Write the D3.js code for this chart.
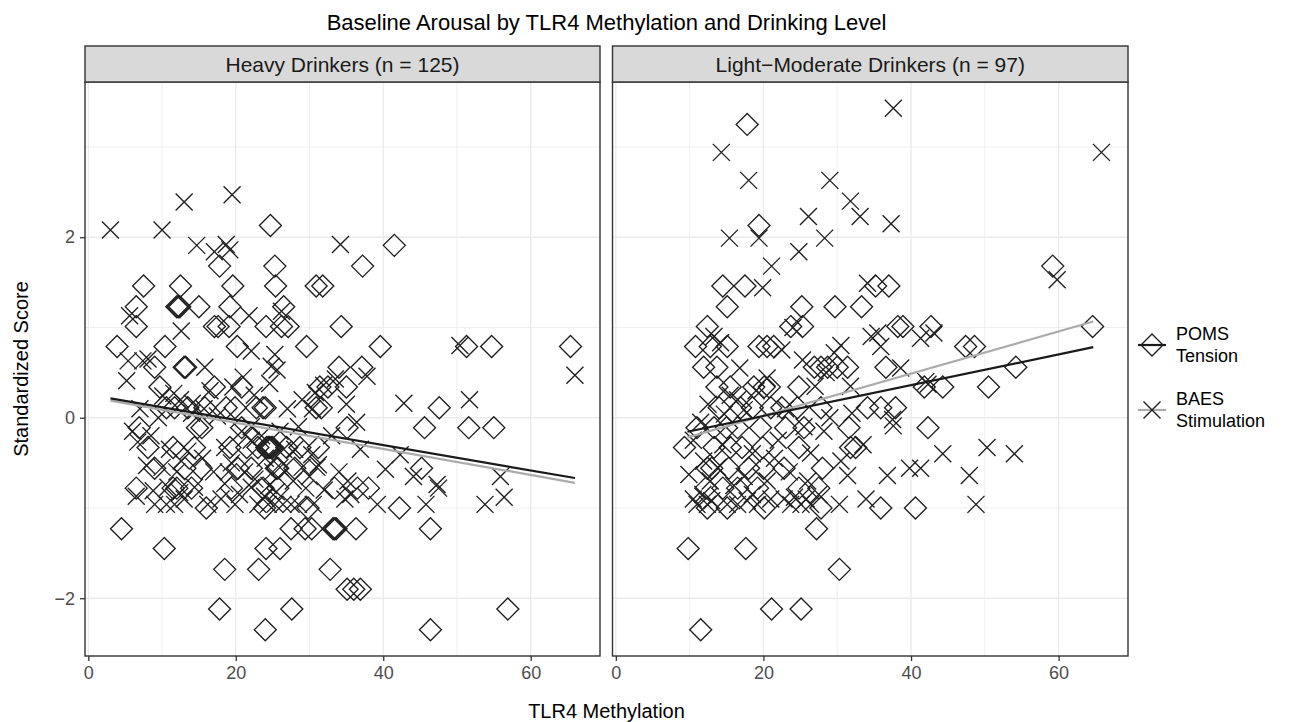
<!DOCTYPE html>
<html>
<head>
<meta charset="utf-8">
<script src="https://cdn.jsdelivr.net/npm/d3@7"></script>
<style>
  body { margin: 0; background: #fff; }
  text { font-family: "Liberation Sans", Arial, Helvetica, sans-serif; }
</style>
</head>
<body>
<div id="chart"></div>
<script>
// facet titles, tick values
const panelTitles = ["Heavy Drinkers (n = 125)", "Light\u2212Moderate Drinkers (n = 97)"];
const xTicks = [0, 20, 40, 60];
const xMinor = [10, 30, 50];
const yTicks = [-2, 0, 2];
const yMinor = [-1, 1, 3];
const seriesNames = [["POMS", "Tension"], ["BAES", "Stimulation"]];

// [methylation, standardized score]
const heavyPoms = [
  [24.7,2.13],[41.5,1.91],
  [17.8,1.68],[25.3,1.68],[37.2,1.68],
  [7.5,1.46],[12.5,1.46],[19.6,1.46],[25.4,1.46],[30.9,1.46],[31.8,1.46],
  [6.5,1.23],[12.0,1.23],[12.2,1.23],[12.4,1.23],[15.0,1.23],[19.2,1.23],[26.5,1.23],
  [6.5,1.01],[17.1,1.01],[17.6,1.01],[19.1,1.01],[24.1,1.01],[26.2,1.01],[27.1,1.01],[34.3,1.01],
  [3.9,0.79],[10.4,0.79],[20.2,0.79],[29.6,0.79],[39.6,0.79],[51.3,0.79],[54.7,0.79],[65.4,0.79],
  [9.0,0.56],[13.0,0.56],[13.2,0.56],[34.0,0.56],[37.1,0.56],
  [9.7,0.34],[17.1,0.34],[20.8,0.34],[31.4,0.34],[32.5,0.34],[35.0,0.34],
  [10.6,0.11],[11.7,0.11],[13.5,0.11],[15.8,0.11],[18.7,0.11],[19.9,0.11],[22.8,0.11],[23.7,0.11],[24.0,0.11],[30.9,0.11],[31.6,0.11],[47.6,0.11],
  [6.9,-0.11],[14.8,-0.11],[15.4,-0.11],[20.8,-0.11],[35.1,-0.11],[45.6,-0.11],[51.6,-0.11],[55.0,-0.11],
  [8.1,-0.33],[11.5,-0.33],[14.4,-0.33],[19.2,-0.33],[21.5,-0.33],[23.0,-0.33],[24.2,-0.33],[24.4,-0.33],[24.6,-0.33],[24.8,-0.33],[25.0,-0.33],[26.9,-0.33],[28.7,-0.33],[31.2,-0.33],
  [9.0,-0.56],[13.1,-0.56],[15.3,-0.56],[20.3,-0.56],[22.1,-0.56],[25.5,-0.56],[25.7,-0.56],[28.0,-0.56],[45.2,-0.56],
  [6.5,-0.78],[11.5,-0.78],[12.0,-0.78],[14.0,-0.78],[19.4,-0.78],[23.7,-0.78],[25.7,-0.78],[33.4,-0.78],[36.5,-0.78],[38.0,-0.78],
  [16.0,-1.0],[23.9,-1.0],[29.8,-1.0],[42.2,-1.0],
  [4.5,-1.23],[27.5,-1.23],[29.4,-1.23],[30.3,-1.23],[33.2,-1.23],[33.4,-1.23],[33.6,-1.23],[36.3,-1.23],[46.4,-1.23],
  [10.3,-1.45],[24.1,-1.45],[26.0,-1.45],
  [18.5,-1.68],[23.1,-1.68],[32.8,-1.68],
  [35.1,-1.9],[36.0,-1.9],[36.9,-1.9],
  [17.8,-2.12],[27.6,-2.12],[56.9,-2.12],
  [24.0,-2.35],[46.4,-2.35]
];

const heavyBaes = [
  [3.0,2.08],[10.0,2.08],[13.0,2.39],[19.5,2.47],[14.7,1.91],[17.1,1.84],[18.7,1.92],[19.2,1.86],[34.2,1.92],
  [5.6,1.13],[12.6,0.96],[21.8,1.13],[26.2,1.18],
  [5.4,0.63],[7.4,0.63],[8.1,0.65],[5.2,0.41],[15.8,0.56],[22.1,0.74],[24.8,0.57],[25.3,0.70],[25.6,0.53],[24.6,0.38],
  [10.1,0.24],[11.6,0.27],[12.5,0.20],[14.1,0.16],[15.7,0.10],[19.6,0.34],[30.8,0.28],[31.9,0.36],[33.5,0.43],[30.4,0.10],
  [50.4,0.80],[37.8,0.46],[66.0,0.47],[42.8,0.16],[51.7,0.20],
  [36.4,-0.05],[36.9,-0.35],[40.3,-0.57],[42.3,-0.41],[44.1,-0.65],[47.3,-0.74],[47.5,-0.78],[55.9,-0.65],[56.4,-0.88],
  [53.8,-0.96],[45.8,-0.96],[39.2,-0.96],[35.2,-0.70],[35.6,-0.85],[34.8,-0.90],
  [6.7,-0.27],[13.5,-0.37],[18.5,-0.33],[22.1,-0.25],[30.3,-0.41],[31.2,-0.52],[7.9,-0.53],[12.6,-0.48],[19.4,-0.50],
  [21.2,-0.60],[22.6,-0.68],[26.0,-0.55],[29.0,-0.55],[31.0,-0.55],
  [6.5,-0.87],[8.8,-0.81],[10.8,-0.77],[12.4,-0.83],[14.4,-0.77],[18.5,-0.73],[22.1,-0.77],[23.9,-0.87],
  [9.0,-0.96],[10.6,-0.96],[11.7,-0.96],[16.2,-0.96],[19.9,-0.96],[23.0,-0.96],[24.4,-0.96],[25.3,-0.96],[26.4,-0.96],
  [27.5,-0.96],[28.5,-0.96],[30.5,-0.96],
  [20.8,-0.15],[22.1,-0.10],
  [24.0,-0.45],[25.0,-0.60],[26.5,-0.35],[27.8,-0.70],[29.5,-0.78],[17.0,-0.60],[15.5,-0.45],[10.0,-0.55],[11.0,-0.35],
  [14.0,0.05],[6.0,-0.15],[8.5,-0.20],[17.5,0.02],[27.0,0.10],[28.5,-0.10],[33.0,-0.20],[34.0,-0.60],[20.5,-0.85],
  [13.0,-0.90],[25.5,-0.82],[32.0,-0.80],
  [23.5,-0.20],[26.0,-0.15],[29.0,0.20],[9.5,0.00],[7.0,0.10],[16.5,0.30],[21.0,0.45],[18.0,-0.90],[12.0,-0.60],
  [28.0,-0.35],[30.0,-0.65],[22.5,0.25],[35.0,0.15],[24.5,-0.75],[19.0,-0.60]
];

const lightPoms = [
  [17.8,3.25],[19.4,2.13],[59.2,1.68],
  [14.5,1.46],[17.5,1.46],[35.2,1.46],[37.0,1.46],
  [15.1,1.23],[25.2,1.23],[29.7,1.23],[33.3,1.23],
  [12.4,1.01],[23.7,1.01],[25.3,1.01],[38.2,1.01],[38.9,1.01],[42.7,1.01],[64.6,1.01],
  [10.8,0.79],[12.8,0.79],[15.1,0.79],[19.4,0.79],[20.5,0.79],[21.4,0.79],[47.4,0.79],[48.6,0.79],
  [11.9,0.56],[13.7,0.56],[26.9,0.56],[27.8,0.56],[28.7,0.56],[30.0,0.56],[31.4,0.56],[36.6,0.56],[54.2,0.56],
  [13.7,0.34],[15.5,0.34],[18.7,0.34],[20.1,0.34],[20.8,0.34],[24.8,0.34],[41.8,0.34],[44.3,0.34],[50.5,0.34],
  [14.0,0.11],[16.9,0.11],[18.5,0.11],[21.0,0.11],[22.5,0.11],[24.6,0.11],[27.8,0.11],[34.1,0.11],[35.9,0.11],[37.9,0.11],
  [11.0,-0.11],[13.3,-0.11],[15.0,-0.11],[16.5,-0.11],[19.6,-0.11],[23.0,-0.11],[25.5,-0.11],[31.6,-0.11],[42.3,-0.11],
  [9.3,-0.33],[13.3,-0.33],[15.5,-0.33],[17.1,-0.33],[19.9,-0.33],[24.8,-0.33],[31.8,-0.33],[32.5,-0.33],
  [12.4,-0.56],[13.0,-0.56],[15.3,-0.56],[18.0,-0.56],[20.0,-0.56],[22.8,-0.56],[28.0,-0.56],
  [12.2,-0.78],[14.5,-0.78],[16.5,-0.78],[19.2,-0.78],[24.8,-0.78],[27.5,-0.78],
  [12.4,-1.0],[15.1,-1.0],[20.1,-1.0],[27.8,-1.0],[35.9,-1.0],[40.6,-1.0],
  [27.2,-1.23],
  [9.8,-1.45],[17.6,-1.45],
  [30.3,-1.68],
  [21.1,-2.12],[25.1,-2.12],
  [11.5,-2.35]
];

const lightBaes = [
  [14.3,2.94],[18.0,2.63],[29.0,2.63],[31.8,2.40],[33.1,2.23],[26.1,2.23],[15.4,1.99],[19.4,1.99],[28.3,1.99],
  [24.8,1.84],[21.1,1.68],[19.9,1.44],[34.1,1.49],[34.6,0.90],[13.3,0.90],[14.2,0.83],[25.3,0.64],[29.6,0.72],
  [20.5,0.44],[31.8,0.35],[16.5,0.20],[17.4,0.09],
  [37.6,3.43],[65.8,2.94],[37.3,2.15],[59.8,1.53],[43.1,0.94],[41.3,0.88],[35.5,0.94],[35.9,0.79],[38.6,0.55],
  [42.0,0.40],[42.3,0.37],
  [37.5,-0.02],[37.6,-0.09],[44.3,-0.40],[50.3,-0.33],[54.0,-0.40],[36.8,-0.64],[39.8,-0.56],[41.3,-0.56],
  [47.9,-0.64],[48.8,-0.96],
  [11.5,-0.05],[14.7,0.04],[28.2,-0.15],[11.9,-0.48],[26.4,-0.39],[30.5,-0.48],[9.9,-0.63],[13.8,-0.55],
  [17.4,-0.65],[31.4,-0.64],
  [11.0,-0.96],[12.4,-0.96],[15.1,-0.96],[16.5,-0.96],[19.2,-0.96],[21.0,-0.90],[23.7,-0.96],[25.1,-0.96],
  [26.4,-0.96],[30.3,-0.96],[33.9,-0.90],
  [10.5,-0.90],[11.8,-0.85],[13.0,-0.92],[17.8,-0.92],[18.5,-0.85],[22.8,-0.90],[24.2,-0.88],[25.8,-0.90],
  [27.5,-0.85],[12.8,-0.70],[16.0,-0.75],[20.5,-0.70],[23.5,-0.60],[26.0,-0.70],[14.5,-0.30],[18.5,-0.40],
  [22.0,-0.25],[25.5,-0.10],[29.0,0.00],[12.5,0.15],[15.5,0.25],[19.0,0.30],[23.0,0.10],[27.0,0.35],
  [32.0,0.05],[21.5,-0.45],[33.5,-0.30],[10.5,-0.25],[16.8,0.55],[28.5,0.50],[30.5,0.80],[22.5,0.75],[24.0,1.00]
];

// linear fits shown in the picture: [x start, x end, y start, y end]
const heavyPomsFit = [3.0, 66.0, 0.215, -0.668];
const heavyBaesFit = [3.0, 66.0, 0.189, -0.721];
const lightPomsFit = [9.7, 64.7, -0.155, 0.782];
const lightBaesFit = [9.7, 64.7, -0.218, 1.066];

const panelData = [
  { title: panelTitles[0], poms: heavyPoms, baes: heavyBaes, pomsFit: heavyPomsFit, baesFit: heavyBaesFit },
  { title: panelTitles[1], poms: lightPoms, baes: lightBaes, pomsFit: lightPomsFit, baesFit: lightBaesFit }
];

const W = 1304, H = 722;
const panelX = [[85, 600], [612.5, 1128]];
const panelTop = 82, panelBottom = 656, stripTop = 46;
const xDomain = [-0.45, 69.4];
const yDomain = [-2.64, 3.72];
const INK = "#1f1f1f";
const GREY_LINE = "#ababab";

const svg = d3.select("#chart").append("svg")
  .attr("width", W)
  .attr("height", H);

const y = d3.scaleLinear().domain(yDomain).range([panelBottom, panelTop]);

const diamond = r => `M0,${-r}L${r},0L0,${r}L${-r},0Z`;
const cross = r => `M${-r},${-r}L${r},${r}M${-r},${r}L${r},${-r}`;
const DIAMOND_R = 11, CROSS_R = 8.5;

panelData.forEach((p, i) => {
  const [x0, x1] = panelX[i];
  const x = d3.scaleLinear().domain(xDomain).range([x0, x1]);
  const g = svg.append("g");

  // grid
  g.selectAll(".vminor").data(xMinor).enter().append("line")
    .attr("x1", d => x(d)).attr("x2", d => x(d))
    .attr("y1", panelTop).attr("y2", panelBottom)
    .attr("stroke", "#ebebeb").attr("stroke-width", 0.8);
  g.selectAll(".hminor").data(yMinor).enter().append("line")
    .attr("x1", x0).attr("x2", x1)
    .attr("y1", d => y(d)).attr("y2", d => y(d))
    .attr("stroke", "#ebebeb").attr("stroke-width", 0.8);
  g.selectAll(".vmajor").data(xTicks).enter().append("line")
    .attr("x1", d => x(d)).attr("x2", d => x(d))
    .attr("y1", panelTop).attr("y2", panelBottom)
    .attr("stroke", "#ebebeb").attr("stroke-width", 1.3);
  g.selectAll(".hmajor").data(yTicks).enter().append("line")
    .attr("x1", x0).attr("x2", x1)
    .attr("y1", d => y(d)).attr("y2", d => y(d))
    .attr("stroke", "#ebebeb").attr("stroke-width", 1.3);

  // points
  g.selectAll(".poms").data(p.poms).enter().append("path")
    .attr("d", diamond(DIAMOND_R))
    .attr("transform", d => `translate(${x(d[0])},${y(d[1])})`)
    .attr("fill", "none").attr("stroke", INK).attr("stroke-width", 1.35);
  g.selectAll(".baes").data(p.baes).enter().append("path")
    .attr("d", cross(CROSS_R))
    .attr("transform", d => `translate(${x(d[0])},${y(d[1])})`)
    .attr("fill", "none").attr("stroke", INK).attr("stroke-width", 1.35);

  // fitted lines
  const line = d3.line().x(d => x(d[0])).y(d => y(d[1]));
  [[p.baesFit, GREY_LINE], [p.pomsFit, "#1a1a1a"]].forEach(([f, col]) => {
    g.append("path")
      .attr("d", line([[f[0], f[2]], [f[1], f[3]]]))
      .attr("fill", "none").attr("stroke", col).attr("stroke-width", 2.2);
  });

  // border
  g.append("rect")
    .attr("x", x0).attr("y", panelTop)
    .attr("width", x1 - x0).attr("height", panelBottom - panelTop)
    .attr("fill", "none").attr("stroke", "#333").attr("stroke-width", 1.4);

  // strip
  g.append("rect")
    .attr("x", x0).attr("y", stripTop)
    .attr("width", x1 - x0).attr("height", panelTop - stripTop)
    .attr("fill", "#d9d9d9").attr("stroke", "#333").attr("stroke-width", 1.4);
  g.append("text")
    .attr("x", (x0 + x1) / 2).attr("y", (stripTop + panelTop) / 2)
    .attr("text-anchor", "middle").attr("dominant-baseline", "central")
    .attr("font-size", 21).attr("fill", "#1a1a1a")
    .text(p.title);

  // x axis
  const xAxis = svg.append("g")
    .attr("transform", `translate(0,${panelBottom})`)
    .call(d3.axisBottom(x).tickValues(xTicks).tickSize(5).tickPadding(5)
      .tickFormat(d => d3.format("d")(d).replace("-", "\u2212")));
  xAxis.select(".domain").remove();
  xAxis.selectAll(".tick line").attr("stroke", "#333").attr("stroke-width", 1.3);
  xAxis.selectAll(".tick text").attr("font-size", 18).attr("fill", "#4d4d4d")
    .attr("font-family", "Liberation Sans, Arial, sans-serif");
});

// y axis on the left panel
const yAxis = svg.append("g")
  .attr("transform", `translate(${panelX[0][0]},0)`)
  .call(d3.axisLeft(y).tickValues(yTicks).tickSize(5).tickPadding(5)
    .tickFormat(d => d3.format("d")(d).replace("-", "\u2212")));
yAxis.select(".domain").remove();
yAxis.selectAll(".tick line").attr("stroke", "#333").attr("stroke-width", 1.3);
yAxis.selectAll(".tick text").attr("font-size", 18).attr("fill", "#4d4d4d")
  .attr("font-family", "Liberation Sans, Arial, sans-serif");

// titles
const plotMid = (panelX[0][0] + panelX[1][1]) / 2;
svg.append("text")
  .attr("x", plotMid).attr("y", 22)
  .attr("text-anchor", "middle").attr("dominant-baseline", "central")
  .attr("font-size", 22).attr("fill", "#000")
  .text("Baseline Arousal by TLR4 Methylation and Drinking Level");
svg.append("text")
  .attr("x", plotMid).attr("y", 711)
  .attr("text-anchor", "middle").attr("dominant-baseline", "central")
  .attr("font-size", 20).attr("fill", "#000")
  .text("TLR4 Methylation");
svg.append("text")
  .attr("transform", `translate(21,${(panelTop + panelBottom) / 2}) rotate(-90)`)
  .attr("text-anchor", "middle").attr("dominant-baseline", "central")
  .attr("font-size", 20).attr("fill", "#000")
  .text("Standardized Score");

// legend
const legend = svg.append("g").attr("transform", "translate(1152,0)");
const legendY = [345, 410];
const legendKeys = [
  { shape: diamond(DIAMOND_R), line: "#1a1a1a" },
  { shape: cross(CROSS_R), line: GREY_LINE }
];
legendKeys.forEach((k, i) => {
  const ly = legendY[i];
  legend.append("line")
    .attr("x1", -14).attr("x2", 14).attr("y1", ly).attr("y2", ly)
    .attr("stroke", k.line).attr("stroke-width", 2.2);
  legend.append("path")
    .attr("d", k.shape).attr("transform", `translate(0,${ly})`)
    .attr("fill", "none").attr("stroke", INK).attr("stroke-width", 1.35);
  const t = legend.append("text")
    .attr("x", 24).attr("y", ly - 11)
    .attr("font-size", 18).attr("fill", "#000")
    .attr("dominant-baseline", "central");
  t.append("tspan").attr("x", 24).attr("dy", 0).text(seriesNames[i][0]);
  t.append("tspan").attr("x", 24).attr("dy", 22).text(seriesNames[i][1]);
});
</script>
</body>
</html>
